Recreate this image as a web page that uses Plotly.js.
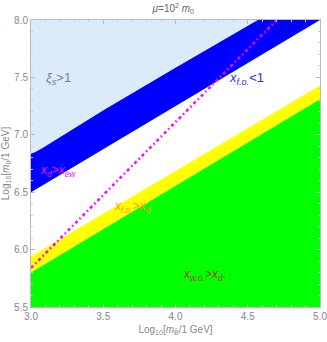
<!DOCTYPE html>
<html>
<head>
<meta charset="utf-8">
<script src="https://cdn.plot.ly/plotly-3.0.1.min.js"></script>
<style>
  html, body { margin: 0; padding: 0; background: #fff; }
  #plot { width: 327px; height: 342px; }
</style>
</head>
<body>
<div id="plot"></div>
<script>
// boundary curves (log10 m_B vs log10 m_0)
var xiEdgeX = [3.0, 3.03, 3.08, 3.19, 3.51, 4.0, 4.57];
var xiEdgeY = [6.835, 6.85, 6.885, 6.97, 7.22, 7.585, 8.0];

var foEdgeX = [3.0, 5.0];
var foEdgeY = [6.5, 8.0];

var yellowTopX = [3.0, 5.0];
var yellowTopY = [5.94, 7.43];

var greenTopX = [3.0, 5.0];
var greenTopY = [5.80, 7.31];

var xdLineX = [3.0, 4.70];
var xdLineY = [5.84, 8.0];

var xTicks = [3.0, 3.5, 4.0, 4.5, 5.0];
var yTicks = [5.5, 6.0, 6.5, 7.0, 7.5, 8.0];

var xMin = 3.0, xMax = 5.0, yMin = 5.5, yMax = 8.0;

function poly(xa, ya, xb, yb) {
  // upper curve a, lower curve b reversed
  return {
    x: xa.concat(xb.slice().reverse()),
    y: ya.concat(yb.slice().reverse())
  };
}

var lightBlue = poly(xiEdgeX, xiEdgeY, [xMin], [yMax]);
var blue = poly(xiEdgeX.concat([xMax]), xiEdgeY.concat([yMax]), foEdgeX, foEdgeY);
var yellow = poly(yellowTopX, yellowTopY, greenTopX, greenTopY);
var green = poly(greenTopX, greenTopY, [xMin, xMax], [yMin, yMin]);

function area(p, color) {
  return {
    x: p.x, y: p.y, type: 'scatter', mode: 'lines',
    fill: 'toself', fillcolor: color,
    line: {width: 0, color: color},
    hoverinfo: 'skip', showlegend: false
  };
}

var data = [
  area(lightBlue, '#dcebfa'),
  area(blue, '#0000ff'),
  area(yellow, '#ffff00'),
  area(green, '#00ff00'),
  {
    x: xdLineX, y: xdLineY, type: 'scatter', mode: 'lines',
    line: {color: '#ff00ff', width: 2.5, dash: '3px,3px,1.5px,3px'},
    showlegend: false
  }
];

var axisFont = {family: 'Liberation Sans, Arial, sans-serif', size: 10, color: '#888'};

var layout = {
  width: 327,
  height: 342,
  margin: {l: 31, r: 7, t: 20, b: 35},
  paper_bgcolor: '#fff',
  plot_bgcolor: '#fff',
  showlegend: false,
  title: {
    text: '<i>μ</i>=10<sup>2</sup> <i>m</i><sub>0</sub>',
    font: {family: 'Liberation Sans, Arial, sans-serif', size: 10, color: '#666'},
    x: 0.53, xanchor: 'center', y: 0.985, yanchor: 'top'
  },
  xaxis: {
    range: [xMin, xMax],
    tickvals: xTicks,
    tickformat: '.1f',
    ticklabeloverflow: 'allow',
    ticks: 'inside', ticklen: 4, tickcolor: '#bbb',
    minor: {dtick: 0.1, ticks: 'inside', ticklen: 2, tickcolor: '#ccc'},
    showline: true, linecolor: '#bbb', mirror: 'ticks',
    showgrid: false, zeroline: false,
    tickfont: axisFont,
    title: {
      text: 'Log<sub>10</sub>[<i>m</i><sub>B̃</sub>/1 GeV]',
      font: axisFont, standoff: 4
    }
  },
  yaxis: {
    range: [yMin, yMax],
    tickvals: yTicks,
    tickformat: '.1f',
    ticklabeloverflow: 'allow',
    ticks: 'inside', ticklen: 4, tickcolor: '#bbb',
    minor: {dtick: 0.1, ticks: 'inside', ticklen: 2, tickcolor: '#ccc'},
    showline: true, linecolor: '#bbb', mirror: 'ticks',
    showgrid: false, zeroline: false,
    tickfont: axisFont,
    title: {
      text: 'Log<sub>10</sub>[<i>m</i><sub>0</sub>/1 GeV]',
      font: axisFont, standoff: 2
    }
  },
  annotations: [
    {x: 3.19, y: 7.49, text: '<i>ξ<sub>s</sub></i>&gt;1', showarrow: false,
     font: {family: 'Liberation Sans, Arial, sans-serif', size: 13, color: '#808080'}},
    {x: 4.49, y: 7.49, text: '<i>x<sub>f.o.</sub></i>&lt;1', showarrow: false,
     font: {family: 'Liberation Sans, Arial, sans-serif', size: 13, color: '#3030e0'}},
    {x: 3.19, y: 6.685, text: '<i>x<sub>d</sub></i>&gt;<i>x<sub>ew</sub></i>', showarrow: false,
     font: {family: 'Liberation Sans, Arial, sans-serif', size: 12, color: '#e020e0'}},
    {x: 3.70, y: 6.37, text: '<i>x<sub>f.o.</sub></i>&gt;<i>x<sub>d</sub></i>', showarrow: false,
     font: {family: 'Liberation Sans, Arial, sans-serif', size: 12, color: '#ff9900'}},
    {x: 4.20, y: 5.78, text: '<i>x<sub>w.o.</sub></i>&gt;<i>x<sub>d</sub></i>.', showarrow: false,
     font: {family: 'Liberation Sans, Arial, sans-serif', size: 12, color: '#a04830'}}
  ]
};

Plotly.newPlot('plot', data, layout, {displayModeBar: false, staticPlot: true});
</script>
</body>
</html>
